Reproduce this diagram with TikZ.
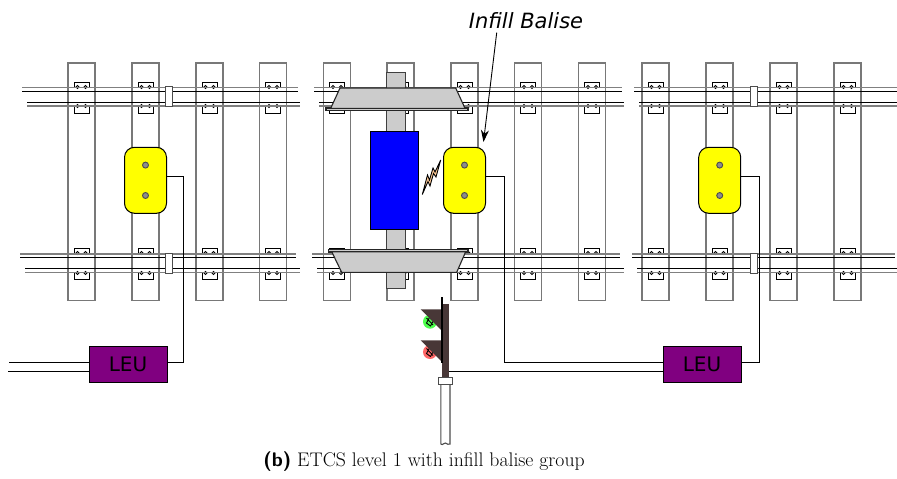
\documentclass[tikz,border=0pt]{standalone}
\usepackage{fontspec}
\usepackage{tikz}
\usetikzlibrary{positioning, arrows.meta}
\newfontfamily\labelfont{DejaVu Sans}
\definecolor{leupurple}{RGB}{128,0,128}
\definecolor{mastbrown}{RGB}{72,55,55}
\definecolor{sleepergray}{RGB}{120,120,120}
\definecolor{baliseyellow}{RGB}{255,255,0}
\definecolor{antennablue}{RGB}{0,0,255}
\definecolor{boltgray}{RGB}{140,140,140}
\definecolor{wheelgray}{RGB}{204,204,204}
\tikzset{
  balise/.style={draw=black, fill=baliseyellow, rounded corners=10pt, minimum width=42pt, minimum height=66pt, line width=1pt},
  boltdot/.style={draw=black!70, fill=boltgray, circle, line width=.9pt, minimum size=6pt, inner sep=0pt},
  leu/.style={draw=black, fill=leupurple, minimum width=78pt, minimum height=36pt, inner sep=0pt, line width=1pt, font=\labelfont\fontsize{20}{20}\selectfont},
  wire/.style={draw=black, line width=1pt},
  sleeper/.style={draw=sleepergray, fill=white, line width=1.2pt},
  railedge/.style={draw=black!50, line width=1.3pt},
  railtop/.style={draw=black, line width=1.2pt},
  jointbox/.style={draw=black!70, fill=white, line width=1pt},
  wheel/.style={draw=black!85, fill=wheelgray, line width=1.1pt}
}
% one rail: grey edge and black head, from x=#1 to x=#2 at y=#3 (flipped with #4)
\newcommand{\railpair}[4]{
  \draw[railedge] (#1,#3) -- (#2,#3);
  \draw[railtop] (#1,#3+3.8*#4) -- (#2,#3+3.8*#4);
}
\begin{document}
\begin{tikzpicture}[x=1pt, y=-1pt, node distance=2cm, on grid]
  \useasboundingbox (0,0) rectangle (897,479);

  % Sleepers
  \foreach \sx in {81.5,145.5,209.5,273,337,400.5,464.5,528,592,655.5,719.5,783.5,847.5} {
    \draw[sleeper] (\sx-13.5,63) rectangle (\sx+13.5,300.5);
    % clips on the two rails
    \foreach \cy/\cb/\bb in {82.5/87/87,113.5/106/106,248/253/253,279/273/273} {
      \draw[fill=white, line width=.9pt] (\sx-7.5,\cb) -- (\sx-7.5,\cy) -- (\sx+7.5,\cy) -- (\sx+7.5,\cb);
      \draw[fill=white, line width=.8pt] (\sx-4,\bb) circle (1.5) (\sx+4,\bb) circle (1.5);
    }
  }

  % Rails
  \foreach \xa/\xb in {22/298,314/622,634/897} {
    \railpair{\xa}{\xb}{87.3}{1}
    \railpair{\xa+5}{\xb+2}{106}{-1}
    \railpair{\xa-2}{\xb-2}{254}{1}
    \railpair{\xa+3}{\xb+2}{272.6}{-1}
  }

  % Rail joints
  \foreach \jx/\jw in {169.3/7,754/7.4} {
    \draw[jointbox] (\jx-.5*\jw,86.7) rectangle (\jx+.5*\jw,106.3);
    \draw[jointbox] (\jx-.5*\jw,253.7) rectangle (\jx+.5*\jw,273);
  }

  % Balises
  \node[balise] (balA) at (145.5,180.3) {};
  \node[balise, right=319pt of balA] (balB) {};
  \node[balise, right=255.2pt of balB] (balC) {};
  \foreach \bal in {balA,balB,balC} {
    \node[boltdot, above=15.2pt of \bal] (\bal top) {};
    \node[boltdot, below=15.2pt of \bal] (\bal low) {};
  }

  % LEUs
  \node[leu, below=183.7pt of balA, xshift=-17.5pt] (leuA) {LEU};
  \node[leu, below=183.7pt of balC, xshift=-17.7pt] (leuB) {LEU};

  % Axle, wheels and antenna
  \draw[draw=black!75, fill=wheelgray, line width=1pt] (386,72) rectangle (405.3,288.3);
  \draw[wheel] (326,108) rectangle (468,110.7);
  \draw[wheel] (340,88) -- (455.7,88) -- (465,108.3) -- (330.7,108.3) -- cycle;
  \draw[wheel] (328.3,249.3) rectangle (468,252);
  \draw[wheel] (331.7,251.7) -- (465.7,251.7) -- (456.7,272.3) -- (341.7,272.3) -- cycle;
  \node[draw=black, fill=antennablue, minimum width=48pt, minimum height=98.3pt, line width=1pt] (antenna) at (394.3,180.2) {};

  % Lightning
  \draw[draw=black, fill=orange!40, line width=.9pt] (422.3,194.5) -- (427.5,175) -- (429.5,180) -- (433,168) -- (435,172) -- (440.7,160)
    -- (436,177) -- (433.5,173.5) -- (430,186) -- (428,181.5) -- cycle;

  % Signal
  \coordinate (sigtop) at (442,297.3);
  \coordinate (sigend) at (442,362.7);
  \fill[green!70!white] (430,321.7) circle (7);
  \fill[red!60!white] (430,352) circle (7);
  \draw[line width=.9pt] (426.5,318) -- (433,325) (430,316.5) -- (434,319.5) -- (430.5,326) -- (426.5,323) -- cycle;
  \draw[line width=.9pt] (426.5,348.5) -- (433,355.5) (430,347) -- (434,350) -- (430.5,356.5) -- (426.5,353.5) -- cycle;
  \fill[mastbrown] (442,304) rectangle (448.7,377);
  \fill[mastbrown] (420.7,309.3) -- (442,309.3) -- (442,331) -- cycle;
  \fill[mastbrown] (420.7,340.3) -- (442,340.3) -- (442,362) -- cycle;
  \draw[line width=1.4pt] (sigtop) -- (sigend);
  \node[jointbox, minimum width=13.5pt, minimum height=6.5pt, inner sep=0pt] (collar) at (445.4,381) {};
  \draw[draw=black!70, line width=1.1pt] (440.8,384.2) -- (440.8,444) .. controls (443,446) and (444,442) .. (445.5,443) .. controls (447,444) and (448.5,445) .. (450,444) -- (450,384.2);

  % Wires
  \coordinate (sigtap) at (448.7,371.7);
  \coordinate (feedA) at (9,362.3);
  \coordinate (feedB) at (8,371.2);
  \draw[wire] ([yshift=3.8pt]balA.east) -- (183.5,176.5) |- ([yshift=1.5pt]leuA.east);
  \draw[wire] ([yshift=3.8pt]balB.east) -- (504,176.5) |- ([yshift=1.5pt]leuB.west);
  \draw[wire] ([yshift=3.8pt]balC.east) -- (759.7,176.5) |- ([yshift=1.5pt]leuB.east);
  \draw[wire] (sigtap) -- (leuB.west |- sigtap);
  \draw[wire] (feedA) -- (leuA.west |- feedA);
  \draw[wire] (feedB) -- (leuA.west |- feedB);

  % Label and caption
  \node[font=\labelfont\itshape\fontsize{21}{21}\selectfont] (infill) at (526,20.5) {Infill Balise};
  \coordinate (infillstart) at (496.7,32.7);
  \coordinate (infilltip) at (483.5,142);
  \draw[-{Stealth[length=12pt,width=8pt]}, line width=.9pt] (infillstart) -- (infilltip);
  \node[font=\fontsize{19.7}{19.7}\selectfont] (caption) at (424,462) {{\sffamily\bfseries (b)} ETCS level 1 with infill balise group};
\end{tikzpicture}
\end{document}
